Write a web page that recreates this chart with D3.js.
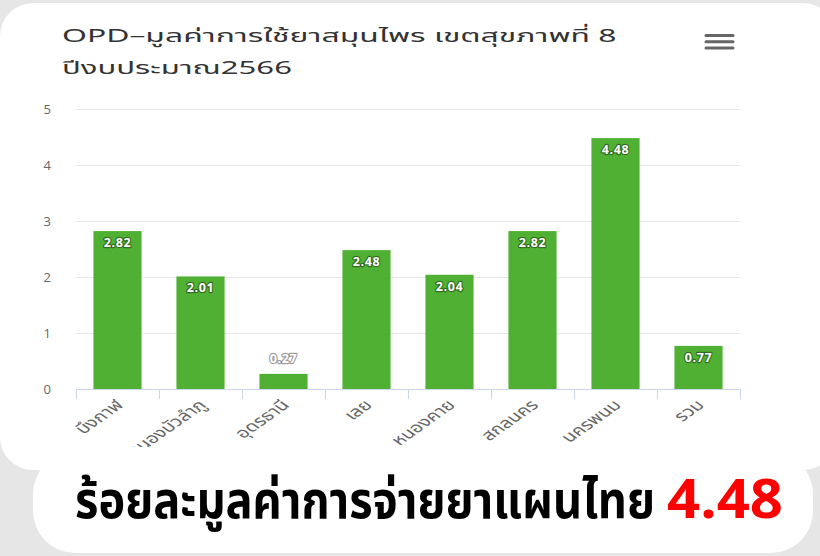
<!DOCTYPE html>
<html>
<head>
<meta charset="utf-8">
<script src="https://cdn.jsdelivr.net/npm/d3@7"></script>
<style>
  html, body { margin: 0; padding: 0; background: #e6e6e6; }
  svg { display: block; }
  .chart-text { font-family: "Noto Sans Thai", "Noto Sans", "Open Sans", "DejaVu Sans", sans-serif; }
  .headline { font-family: "Noto Sans Thai", "Noto Sans", "Liberation Sans", sans-serif; font-weight: 700; }
</style>
</head>
<body>
<svg id="chart" width="820" height="556"></svg>
<script>
// Herbal-medicine value by province, health region 8, fiscal year 2566
const categories = ["บึงกาฬ", "หนองบัวลำภู", "อุดรธานี", "เลย", "หนองคาย", "สกลนคร", "นครพนม", "รวม"];
const values = [2.82, 2.01, 0.27, 2.48, 2.04, 2.82, 4.48, 0.77];
const yTicks = [0, 1, 2, 3, 4, 5];
const titleLines = ["OPD–มูลค่าการใช้ยาสมุนไพร เขตสุขภาพที่ 8", "ปีงบประมาณ2566"];
const headlineText = "ร้อยละมูลค่าการจ่ายยาแผนไทย";
const headlineCategory = "นครพนม";

const svg = d3.select("#chart");
const W = 820, H = 556;

// page background and the two white cards
svg.append("rect").attr("width", W).attr("height", H).attr("fill", "#e6e6e6");
svg.append("rect").attr("x", 0).attr("y", 3).attr("width", 836).attr("height", 467)
  .attr("rx", 33).attr("fill", "#ffffff");
svg.append("rect").attr("x", 33).attr("y", 452).attr("width", 780).attr("height", 101)
  .attr("rx", 42).attr("fill", "#ffffff");

// chart region, cut off below the rotated labels
svg.append("defs").append("clipPath").attr("id", "chartClip")
  .append("rect").attr("x", 0).attr("y", 0).attr("width", W).attr("height", 447);
const chart = svg.append("g").attr("clip-path", "url(#chartClip)").attr("class", "chart-text");

const plot = { left: 76, right: 740, top: 109, bottom: 389 };
const stretchX = 1.42; // horizontal stretch of the category lettering

const x = d3.scaleBand().domain(categories)
  .range([plot.left, plot.right]).paddingInner(0.42).paddingOuter(0.21);
const y = d3.scaleLinear().domain([0, 5]).range([plot.bottom, plot.top]);

// fit a text horizontally into a given width by scaling its glyphs
function fitWidth(sel, left, baseline, width) {
  const natural = sel.node().getComputedTextLength();
  sel.attr("x", 0).attr("y", 0)
    .attr("transform", `translate(${left},${baseline}) scale(${width / natural},1)`);
}

// title, two lines stretched to their widths
const titleWidths = [555, 230];
chart.append("g").selectAll("text").data(titleLines).join("text")
  .attr("fill", "#333333")
  .style("font-size", "18px")
  .text(d => d)
  .each(function (d, i) { fitWidth(d3.select(this), 62, 42 + i * 32, titleWidths[i]); });

// context-menu icon
chart.append("g").selectAll("line").data([0, 1, 2]).join("line")
  .attr("x1", 706).attr("x2", 733)
  .attr("y1", d => 35.5 + d * 6.3).attr("y2", d => 35.5 + d * 6.3)
  .attr("stroke", "#666666").attr("stroke-width", 3).attr("stroke-linecap", "round");

// horizontal grid + y labels
const yAxis = d3.axisLeft(y).tickValues(yTicks).tickFormat(d3.format("d"))
  .tickSize(-(plot.right - plot.left)).tickPadding(25);
const gy = chart.append("g").attr("transform", `translate(${plot.left},0)`).call(yAxis);
gy.select(".domain").remove();
gy.selectAll(".tick line").attr("stroke", "#e6e6e6").attr("stroke-width", 1);
gy.selectAll(".tick text").attr("fill", "#666666").style("font-size", "13px")
  .style("font-family", "\"Open Sans\", \"DejaVu Sans\", sans-serif");

// bars
chart.append("g").selectAll("rect").data(values).join("rect")
  .attr("x", (d, i) => x(categories[i]))
  .attr("width", x.bandwidth())
  .attr("y", d => y(d))
  .attr("height", d => y(0) - y(d))
  .attr("fill", "#50b033");

// x axis with ticks on category boundaries
const boundaries = d3.range(categories.length + 1)
  .map(i => plot.left + i * (plot.right - plot.left) / categories.length);
const gx = chart.append("g");
gx.append("line").attr("x1", plot.left).attr("x2", plot.right)
  .attr("y1", plot.bottom + 0.5).attr("y2", plot.bottom + 0.5)
  .attr("stroke", "#ccd6eb");
gx.selectAll("line.tick").data(boundaries).join("line").attr("class", "tick")
  .attr("x1", d => d + 0.5).attr("x2", d => d + 0.5)
  .attr("y1", plot.bottom).attr("y2", plot.bottom + 10)
  .attr("stroke", "#ccd6eb");
gx.selectAll("text").data(categories).join("text")
  .attr("transform", d => `translate(${x(d) + x.bandwidth() / 2 + 7},${plot.bottom + 17}) scale(${stretchX},1) rotate(-45)`)
  .attr("text-anchor", "end")
  .attr("fill", "#666666")
  .style("font-size", "14.5px")
  .text(d => d);

// value labels: inside the bar top, or above when the bar is too short
const fmt = d3.format(".2f");
chart.append("g").selectAll("text").data(values).join("text")
  .attr("x", (d, i) => x(categories[i]) + x.bandwidth() / 2)
  .attr("y", d => (y(0) - y(d) > 24 ? y(d) + 16 : y(d) - 11))
  .attr("text-anchor", "middle")
  .attr("fill", "#ffffff")
  .attr("stroke", "rgba(0,0,0,0.4)")
  .attr("stroke-width", 2.4)
  .attr("stroke-linejoin", "round")
  .style("paint-order", "stroke")
  .style("font-size", "12.5px")
  .style("font-weight", "700")
  .style("letter-spacing", "0.6px")
  .style("font-family", "\"Open Sans\", \"DejaVu Sans\", sans-serif")
  .text(d => fmt(d));

// headline with the highlighted value
const headlineValue = values[categories.indexOf(headlineCategory)];
const headBlack = svg.append("text").attr("class", "headline")
  .style("font-size", "52px").attr("fill", "#000000").text(headlineText);
fitWidth(headBlack, 75, 518, 580);
const headRed = svg.append("text").attr("class", "headline")
  .style("font-size", "54px").attr("fill", "#ff0000").text(fmt(headlineValue));
fitWidth(headRed, 667, 518, 116);
</script>
</body>
</html>
